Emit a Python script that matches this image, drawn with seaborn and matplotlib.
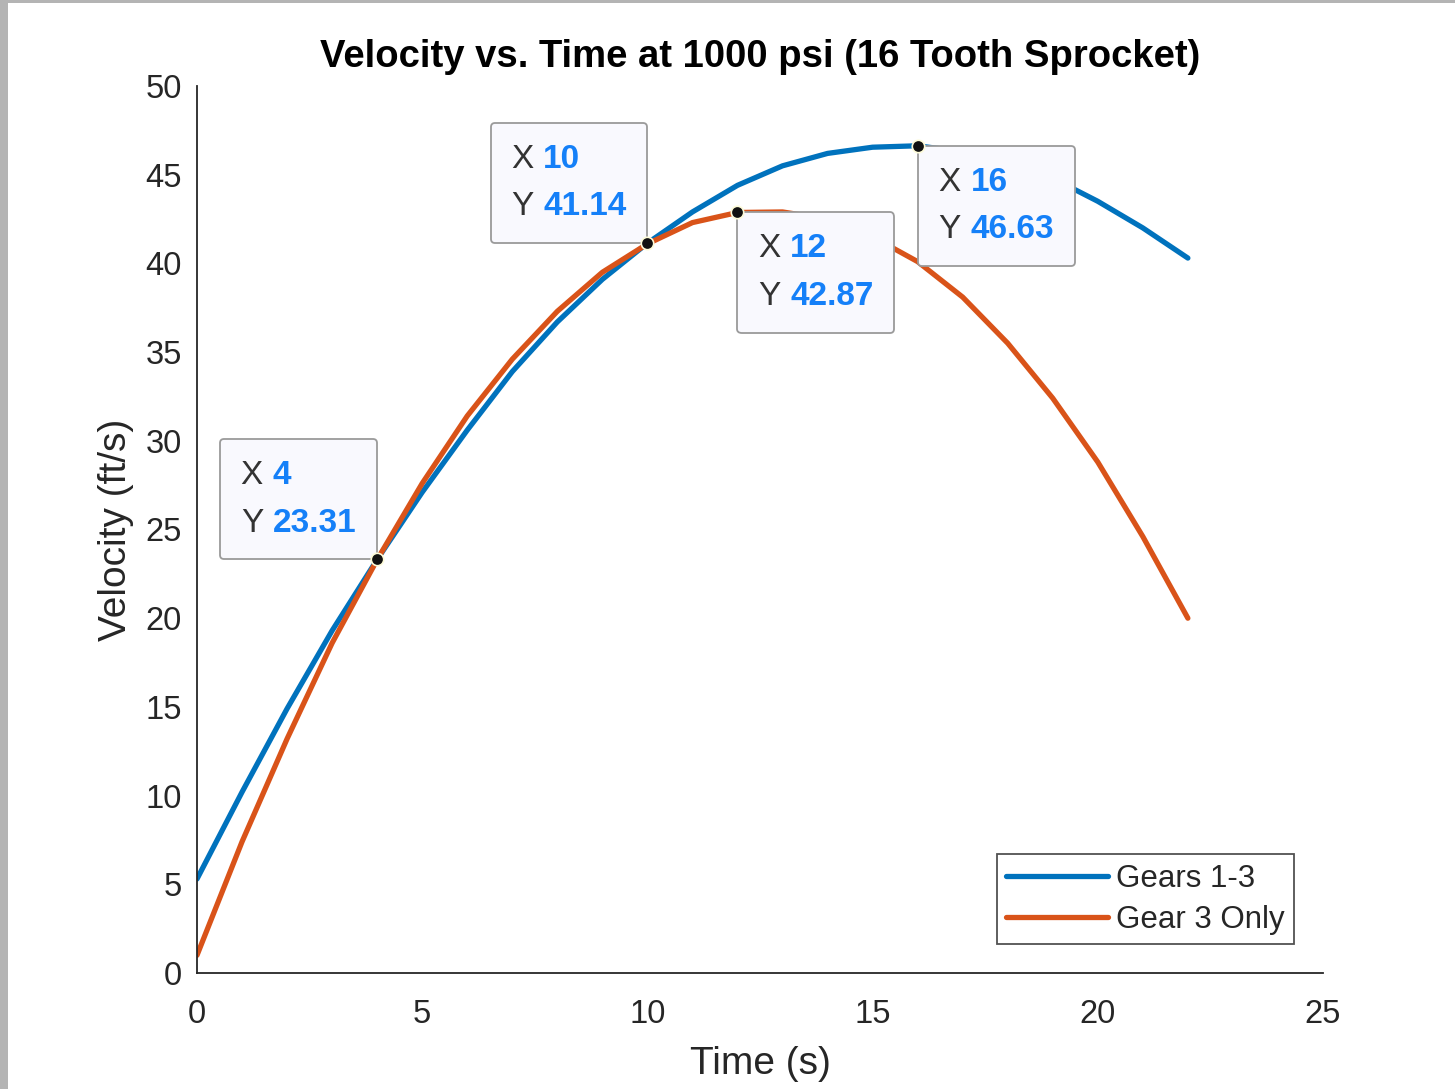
import matplotlib
matplotlib.use("Agg")
import matplotlib.pyplot as plt
import seaborn as sns
import pandas as pd
from matplotlib.offsetbox import TextArea, HPacker, VPacker, AnnotationBbox
from matplotlib.patches import Rectangle

# ---------------- data ----------------
time_s = list(range(23))
gears_1_3 = [5.3, 10.2, 14.9, 19.3, 23.31, 27.1, 30.6, 33.9, 36.7, 39.1, 41.14,
             42.9, 44.4, 45.5, 46.2, 46.55, 46.63, 46.3, 45.7, 44.8, 43.5, 42.0, 40.3]
gear_3_only = [1.0, 7.4, 13.2, 18.6, 23.3, 27.6, 31.4, 34.6, 37.3, 39.5, 41.1,
               42.3, 42.87, 42.9, 42.5, 41.5, 40.1, 38.1, 35.5, 32.4, 28.8, 24.6, 20.0]
series_names = ["Gears 1-3", "Gear 3 Only"]

tip_x = [4, 10, 12, 16]
tip_y = [23.31, 41.14, 42.87, 46.63]
tip_x_text = ["4", "10", "12", "16"]
tip_y_text = ["23.31", "41.14", "42.87", "46.63"]
tip_align = [(1, 0), (1, 0), (0, 1), (0, 1)]

x_ticks = [0, 5, 10, 15, 20, 25]
y_ticks = [0, 5, 10, 15, 20, 25, 30, 35, 40, 45, 50]

title = "Velocity vs. Time at 1000 psi (16 Tooth Sprocket)"
x_label = "Time (s)"
y_label = "Velocity (ft/s)"

# ---------------- style ----------------
sns.set_style("white")
plt.rcParams["font.family"] = ["Liberation Sans", "DejaVu Sans"]
TXT = "#262626"

df = pd.DataFrame({
    "Time": time_s * 2,
    "Velocity": gears_1_3 + gear_3_only,
    "Series": [series_names[0]] * len(time_s) + [series_names[1]] * len(time_s),
})

fig = plt.figure(figsize=(14.55, 10.89), dpi=100)
ax = fig.add_axes([197 / 1455, 1 - 973 / 1089, (1323 - 197) / 1455, (973 - 86) / 1089])

sns.lineplot(data=df, x="Time", y="Velocity", hue="Series",
             palette=["#0072BD", "#D95319"], linewidth=3.8, ax=ax)

ax.set_xlim(0, 25)
ax.set_ylim(0, 50)
ax.set_xticks(x_ticks)
ax.set_yticks(y_ticks)
ax.tick_params(direction="in", length=7, width=1.2, colors=TXT, labelsize=23.5)
ax.tick_params(axis="x", pad=19)
ax.tick_params(axis="y", pad=11)
for s in ["top", "right"]:
    ax.spines[s].set_visible(False)
for s in ["left", "bottom"]:
    ax.spines[s].set_color(TXT)
    ax.spines[s].set_linewidth(1.3)

ax.set_title(title, fontsize=27.5, fontweight="bold", color="black", pad=14)
ax.set_xlabel(x_label, fontsize=28, color=TXT, labelpad=11)
ax.set_ylabel(y_label, fontsize=28, color=TXT, labelpad=8)

leg = ax.legend(loc="lower right", fontsize=22.5, frameon=True, fancybox=False,
                handlelength=3.25, handletextpad=0.26, borderaxespad=0.93,
                borderpad=0.3, labelspacing=0.35)
leg.get_frame().set_edgecolor(TXT)
leg.get_frame().set_linewidth(1.3)
for t in leg.get_texts():
    t.set_color(TXT)
for h in leg.legend_handles:
    h.set_linewidth(3.8)

# data tips
for xv, yv, xs, ys, al in zip(tip_x, tip_y, tip_x_text, tip_y_text, tip_align):
    ax.scatter([xv], [yv], s=80, color="#111111", edgecolor="#fdfbd8",
               linewidth=1.2, zorder=7)
    rows = []
    for lab, val in (("X", xs), ("Y", ys)):
        rows.append(HPacker(children=[
            TextArea(lab, textprops=dict(fontsize=24, color="#333333")),
            TextArea(val, textprops=dict(fontsize=24, color="#1580f8", fontweight="bold")),
        ], align="baseline", pad=0, sep=7))
    box = VPacker(children=rows, align="left", pad=15, sep=12)
    ab = AnnotationBbox(box, (xv, yv), xycoords="data", box_alignment=al,
                        frameon=True, pad=0,
                        bboxprops=dict(boxstyle="round,pad=0,rounding_size=0.3",
                                       facecolor="#f9f9fe", edgecolor="#9a9a9a",
                                       linewidth=1.3))
    ab.set_zorder(5)
    ax.add_artist(ab)

# grey frame at left/top edges of the picture
fig.patches.append(Rectangle((0, 0), 8 / 1455, 1, transform=fig.transFigure,
                             facecolor="#b4b4b4", edgecolor="none", zorder=0))
fig.patches.append(Rectangle((0, 1 - 3 / 1089), 1, 3 / 1089, transform=fig.transFigure,
                             facecolor="#b4b4b4", edgecolor="none", zorder=0))

fig.savefig("out.png", dpi=100)
